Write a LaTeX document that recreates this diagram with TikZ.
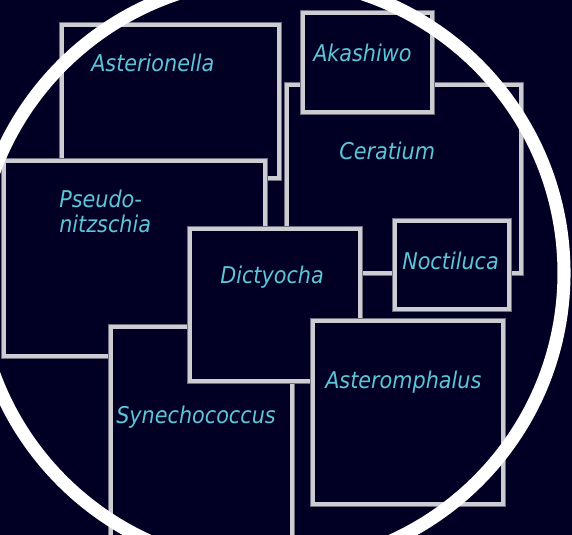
\documentclass[tikz,border=0pt]{standalone}
\usepackage{fontspec}
\IfFontExistsTF{DejaVu Sans Condensed Oblique}
  {\newfontfamily\taxonfont{DejaVu Sans Condensed Oblique}}
  {\newfontfamily\taxonfont[FakeStretch=0.9]{DejaVu Sans Oblique}}
\definecolor{SeaNight}{RGB}{1,0,36}
\definecolor{SeaCyan}{RGB}{92,198,216}
\definecolor{SeaFrame}{RGB}{204,204,210}
\definecolor{SeaHalo}{RGB}{110,110,126}

\begin{document}
\begin{tikzpicture}[x=0.75pt, y=-0.75pt,
    cell/.style={fill=SeaNight, draw=SeaFrame, line width=2.3pt,
                 preaction={draw=SeaHalo, line width=3.9pt}},
    taxon/.style={font=\taxonfont\fontsize{17.3pt}{20pt}\selectfont,
                  text=SeaCyan, anchor=base west, inner sep=0pt},
    ring/.style={draw=white, line width=9.8pt}
  ]
  \useasboundingbox (0,0) rectangle (572,535);
  \fill[SeaNight] (0,0) rectangle (572,535);
  \clip (0,0) rectangle (572,535);

  % frames, back to front
  \foreach \xa/\ya/\xb/\yb in {62/25/279/178, 287/85/521/273, 303/13/432/112,
      4/161/265/356, 111/327/292/560, 395/221/509/309, 190/229/360/381,
      313/321/503/504}{
    \draw[cell] (\xa,\ya) rectangle (\xb,\yb);
  }

  \node[taxon] (asterionella)  at (91,72)   {Asterionella};
  \node[taxon] (akashiwo)      at (313,62)  {Akashiwo};
  \node[taxon] (ceratium)      at (339,160) {Ceratium};
  \node[taxon] (pseudo)        at (59,207)  {Pseudo-};
  \node[taxon] (nitzschia)     at (59,233)  {nitzschia};
  \node[taxon] (dictyocha)     at (220,283) {Dictyocha};
  \node[taxon] (noctiluca)     at (402,269) {Noctiluca};
  \node[taxon] (asteromphalus) at (325,388) {Asteromphalus};
  \node[taxon] (synechococcus) at (116,423) {Synechococcus};

  \draw[ring] (270,273) circle[radius=294];
\end{tikzpicture}
\end{document}
